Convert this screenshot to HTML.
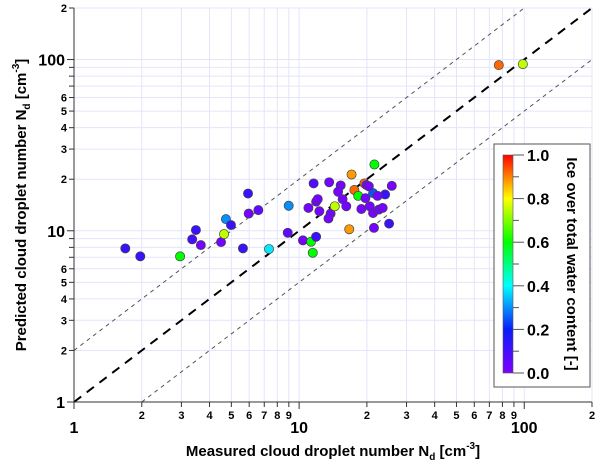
<!DOCTYPE html>
<html><head><meta charset="utf-8"><style>
body{margin:0;background:#fff;width:600px;height:467px;overflow:hidden}
svg{font-family:"Liberation Sans",Arial,sans-serif;font-weight:bold}
</style></head><body>
<svg id="chart" width="600" height="467"></svg>
<script>
const measured=[1.69,1.97,2.96,3.48,3.35,3.66,4.50,4.64,4.73,4.98,5.63,5.93,5.97,6.59,7.35,8.99,8.90,10.4,11.3,11.5,11.9,11.6,13.6,15.3,14.9,15.6,11.9,12.1,11.0,12.3,13.8,13.5,14.4,16.2,17.1,17.6,16.7,18.3,21.6,19.5,21.3,24.1,25.8,19.9,20.4,22.3,19.7,18.9,20.6,21.3,22.6,23.5,21.5,25.1,77.1,98.6];
const predicted=[7.89,7.09,7.09,10.1,8.91,8.25,8.59,9.56,11.7,10.8,7.89,16.5,12.6,13.2,7.82,14.0,9.73,8.79,8.63,7.44,9.22,18.9,19.2,18.4,16.9,15.3,14.8,15.3,13.6,13.0,12.6,11.8,13.9,13.9,21.3,17.3,10.2,16.0,24.4,18.9,16.6,16.3,18.3,18.5,18.2,16.0,15.5,13.4,13.9,12.7,13.3,13.6,10.4,11.0,92.8,94.0];
const iceFrac=[0.12,0.12,0.6,0.12,0.1,0.02,0.02,0.75,0.3,0.12,0.12,0.12,0.02,0.05,0.38,0.3,0.05,0.02,0.6,0.6,0.12,0.08,0.02,0.02,0.02,0.02,0.02,0.02,0.02,0.02,0.02,0.02,0.75,0.02,0.88,0.92,0.88,0.6,0.6,0.92,0.25,0.12,0.02,0.02,0.02,0.02,0.02,0.02,0.02,0.02,0.02,0.02,0.02,0.12,0.92,0.75];
const majorTicks=[1,10,100];
const minorLabelsX=[2,3,4,5,6,7,8,9];
const minorLabelsY=[2,3,4,5,6];
const cbTicks=[0,0.2,0.4,0.6,0.8,1.0];

const L=74,R=592,T=8,B=402,VMIN=1,VMAX=200;
const lx=v=>L+(R-L)*Math.log10(v/VMIN)/Math.log10(VMAX/VMIN);
const ly=v=>B-(B-T)*Math.log10(v/VMIN)/Math.log10(VMAX/VMIN);
const NS='http://www.w3.org/2000/svg';
const svg=document.getElementById('chart');
function mk(tag,attrs,parent){const e=document.createElementNS(NS,tag);for(const k in attrs)e.setAttribute(k,attrs[k]);(parent||svg).appendChild(e);return e;}
const stops=[[0,[128,0,255]],[0.2,[10,30,250]],[0.4,[0,255,255]],[0.6,[0,255,0]],[0.8,[255,255,0]],[0.9,[255,130,0]],[1,[255,0,0]]];
function cmap(t){for(let i=1;i<stops.length;i++){if(t<=stops[i][0]){const a=stops[i-1],b=stops[i];const f=(t-a[0])/(b[0]-a[0]);const c=a[1].map((x,j)=>Math.round(x+(b[1][j]-x)*f));return `rgb(${c})`;}}return 'rgb(255,0,0)';}

const allv=[];for(let d=1;d<=100;d*=10)for(let m=1;m<=9;m++){if(d*m<=200)allv.push(d*m);}allv.push(200);
const grid=mk('g',{});


allv.forEach(v=>{
 mk('line',{x1:lx(v),x2:lx(v),y1:T,y2:B,stroke:'#e4e4fb','stroke-width':1},grid);
 mk('line',{x1:L,x2:R,y1:ly(v),y2:ly(v),stroke:'#e4e4fb','stroke-width':1},grid);
});
const l1=mk('line',{x1:lx(1),y1:ly(1),x2:lx(200),y2:ly(200),stroke:'#000','stroke-width':2,'stroke-dasharray':'9,7'});


const l2=mk('line',{x1:lx(1),y1:ly(2),x2:lx(100),y2:ly(200),stroke:'#555','stroke-width':1,'stroke-dasharray':'4,4'});


const l3=mk('line',{x1:lx(2),y1:ly(1),x2:lx(200),y2:ly(100),stroke:'#555','stroke-width':1,'stroke-dasharray':'4,4'});


const ax=mk('g',{});


mk('line',{x1:L,x2:L,y1:T,y2:B,stroke:'#333','stroke-width':1},ax);
mk('line',{x1:L,x2:R,y1:B,y2:B,stroke:'#333','stroke-width':1},ax);
allv.forEach(v=>{
 const maj=majorTicks.includes(v);
 mk('line',{x1:lx(v),x2:lx(v),y1:B,y2:B+(maj?7:5),stroke:'#333'},ax);
 mk('line',{x1:L,x2:L-(maj?7:5),y1:ly(v),y2:ly(v),stroke:'#333'},ax);
});
majorTicks.forEach(v=>{
 const t=mk('text',{x:lx(v),y:B+31,'text-anchor':'middle','font-size':16},ax);t.textContent=v;
 
 
 const u=mk('text',{x:L-9,y:ly(v)+6,'text-anchor':'end','font-size':16},ax);u.textContent=v;
 
 
});
[1,10,100].forEach(d=>{
 minorLabelsX.forEach(m=>{if(d*m>200)return;const t=mk('text',{x:lx(d*m),y:B+17,'text-anchor':'middle','font-size':11},ax);t.textContent=m;
  
  });
 minorLabelsY.forEach(m=>{if(d*m>200)return;const t=mk('text',{x:L-7,y:ly(d*m)+4,'text-anchor':'end','font-size':11},ax);t.textContent=m;
  
  });
});
const xt=mk('text',{x:333,y:456,'text-anchor':'middle','font-size':15});


xt.innerHTML='Measured cloud droplet number N<tspan font-size="10" dy="4">d</tspan><tspan dy="-4"> [cm</tspan><tspan font-size="10" dy="-7">-3</tspan><tspan dy="7">]</tspan>';
const yt=mk('text',{x:0,y:0,'text-anchor':'middle','font-size':15,transform:'translate(26,205) rotate(-90)'});


yt.innerHTML='Predicted cloud droplet number N<tspan font-size="10" dy="4">d</tspan><tspan dy="-4"> [cm</tspan><tspan font-size="10" dy="-7">-3</tspan><tspan dy="7">]</tspan>';
const pts=mk('g',{});


measured.forEach((m,i)=>{
 const c=mk('circle',{cx:lx(m),cy:ly(predicted[i]),r:4.6,fill:cmap(iceFrac[i]),stroke:'#444','stroke-width':0.7},pts);
 
 
});
const cb=mk('g',{});


mk('rect',{x:494,y:144,width:96,height:243,fill:'#fff',stroke:'#555','stroke-width':1},cb);
const defs=mk('defs',{});
const lg=mk('linearGradient',{id:'cg',x1:0,y1:1,x2:0,y2:0},defs);
stops.forEach(s=>mk('stop',{offset:s[0],'stop-color':cmap(s[0])},lg));
const cbTop=155,cbBot=373;
mk('rect',{x:503,y:cbTop,width:10,height:cbBot-cbTop,fill:'url(#cg)',stroke:'#555','stroke-width':0.6},cb);
const cy=t=>cbBot-(cbBot-cbTop)*t;
for(let k=0;k<=10;k++){mk('line',{x1:513,x2:k%2==0?524:519,y1:cy(k/10),y2:cy(k/10),stroke:'#555'},cb);}
cbTicks.forEach(t=>{const e=mk('text',{x:527,y:cy(t)+6,'font-size':16},cb);e.textContent=t.toFixed(1);
 
 });
const ct=mk('text',{x:0,y:0,'text-anchor':'middle','font-size':15,transform:'translate(567,264) rotate(90)'},cb);
ct.textContent='Ice over total water content [-]';


</script>
</body></html>
